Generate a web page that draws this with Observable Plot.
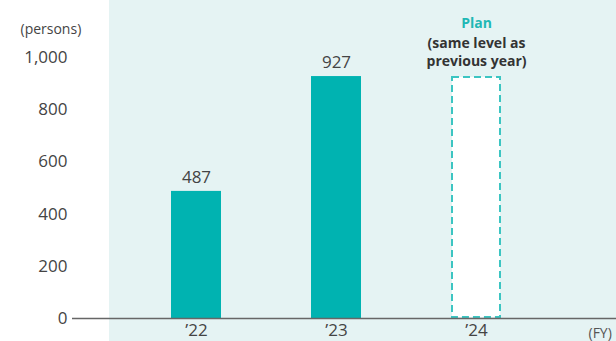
<!DOCTYPE html>
<html>
<head>
<meta charset="utf-8">
<script src="https://cdn.jsdelivr.net/npm/d3@7"></script>
<script src="https://cdn.jsdelivr.net/npm/@observablehq/plot@0.6"></script>
<style>
  html, body { margin: 0; padding: 0; background: #fff; }
  #chart svg { display: block; }
</style>
</head>
<body>
<div id="chart"></div>
<script>
const years = ["’22", "’23", "’24"];
const values = [487, 927, 927];
const kinds = ["actual", "actual", "plan"];
const yTicks = [0, 200, 400, 600, 800, 1000];
const planLines = ["Plan", "(same level as", "previous year)"];
const yUnit = "(persons)";
const xUnit = "(FY)";

const data = years.map((y, i) => ({year: y, value: values[i], kind: kinds[i]}));
const actual = data.filter(d => d.kind === "actual");
const plan = data.filter(d => d.kind === "plan");

const font = "'Open Sans', 'Noto Sans', sans-serif";

const chart = Plot.plot({
  width: 616,
  height: 341,
  marginLeft: 72,
  marginRight: 0,
  marginTop: 57,
  marginBottom: 23,
  style: {fontFamily: font, background: "linear-gradient(to right, #ffffff 109px, #e5f3f3 109px)"},
  x: {domain: years, range: [171, 502], paddingInner: 0.64, paddingOuter: 0, align: 0.5},
  y: {domain: [0, 1000]},
  marks: [
    Plot.barY(actual, {x: "year", y: "value", fill: "#00b3b1"}),
    Plot.barY(plan, {x: "year", y: "value", fill: "#ffffff", stroke: "#3cc5c2", strokeWidth: 2, strokeDasharray: "7,4", inset: 1}),
    Plot.text(actual, {x: "year", y: "value", text: d => d.value, dy: -14, fontSize: 17, fill: "#444"}),
    Plot.text(plan, {x: "year", y: "value", text: () => planLines[0], dy: -53, fontSize: 14, fontWeight: "bold", fill: "#1fb8b5"}),
    Plot.text(plan, {x: "year", y: "value", text: () => planLines[1], dy: -33, fontSize: 14, fontWeight: "bold", fill: "#333"}),
    Plot.text(plan, {x: "year", y: "value", text: () => planLines[2], dy: -15, fontSize: 14, fontWeight: "bold", fill: "#333"}),
    Plot.axisY({ticks: yTicks, tickFormat: d3.format(","), tickSize: 0, tickPadding: 5, fontSize: 17, fill: "#444", label: null}),
    Plot.axisX({tickSize: 0, tickPadding: 5, fontSize: 17, fill: "#444", label: null}),
    Plot.ruleY([0], {stroke: "#666", strokeWidth: 1.5}),
    Plot.text([yUnit], {frameAnchor: "top-left", text: d => d, dx: -52, dy: -33, textAnchor: "start", fontSize: 14, fill: "#444"}),
    Plot.text([xUnit], {frameAnchor: "bottom-right", text: d => d, dx: -28, dy: 19, textAnchor: "start", fontSize: 14, fill: "#555"})
  ]
});
document.getElementById("chart").appendChild(chart);
</script>
</body>
</html>
